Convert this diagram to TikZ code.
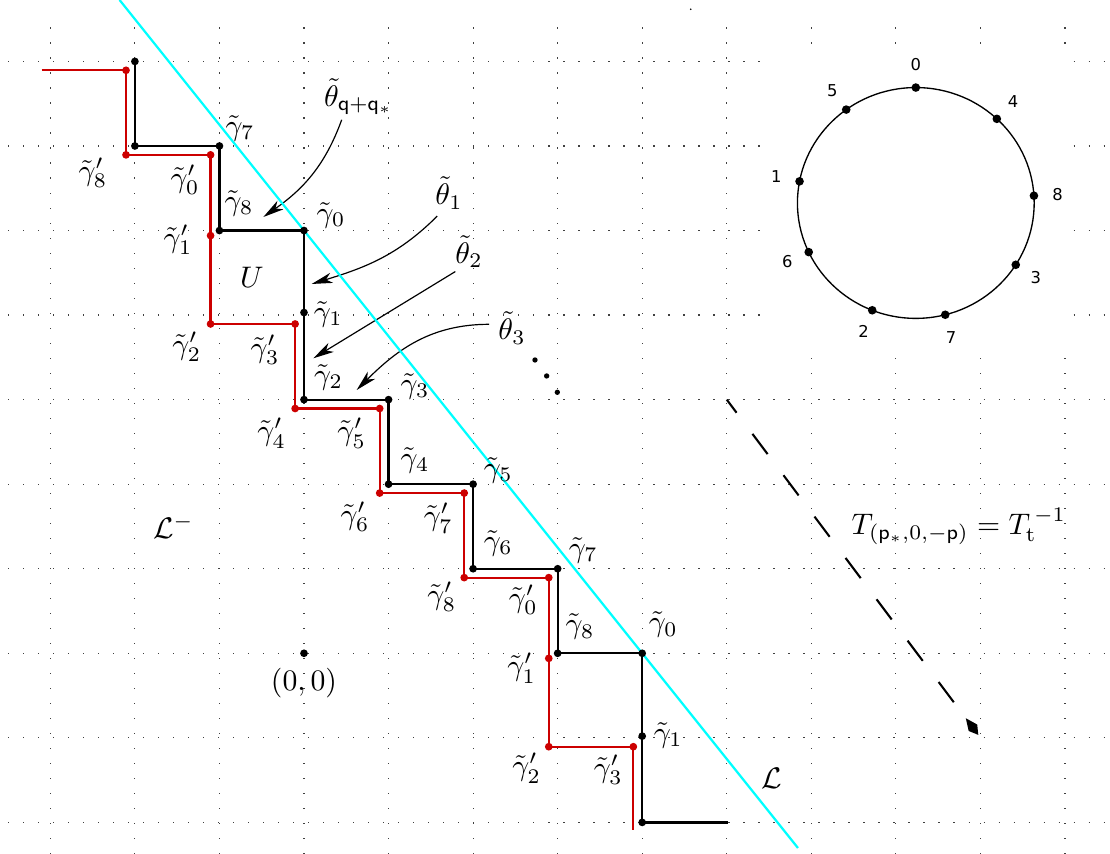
\documentclass[tikz,border=0pt]{standalone}
\usepackage{fontspec}
\newfontfamily\circfont{DejaVu Sans}
\usetikzlibrary{arrows.meta,calc}
\definecolor{pathred}{RGB}{204,0,0}
\definecolor{lcyan}{RGB}{0,255,255}
\begin{document}
\begin{tikzpicture}[
  gridline/.style={line width=0.4pt, dash pattern=on 0.4pt off 4.65pt, black!75},
  bpath/.style={line width=0.75pt, black},
  rpath/.style={line width=0.75pt, pathred},
  bdot/.style={circle, fill=black, inner sep=0pt, minimum size=2.6pt},
  rdot/.style={circle, fill=pathred, inner sep=0pt, minimum size=2.6pt},
  cdot/.style={circle, fill=black, inner sep=0pt, minimum size=2.9pt},
  edot/.style={circle, fill=black, inner sep=0pt, minimum size=1.8pt},
  glab/.style={inner sep=0pt, font=\fontsize{10}{12}\selectfont},
  tlab/.style={inner sep=0pt, font=\fontsize{10}{12}\selectfont},
  blab/.style={inner sep=0pt, font=\fontsize{10}{12}\selectfont},
  clab/.style={inner sep=0pt, font=\circfont\fontsize{5.5}{6.5}\selectfont},
  thinarrow/.style={line width=0.4pt, -{Stealth[length=7pt,width=3.5pt,inset=2pt]}},
  dasharrow/.style={line width=0.7pt, dash pattern=on 8.5pt off 8.9pt, dash phase=3pt, -{Kite[length=7pt,width=3.6pt,inset=4pt]}},
]
\useasboundingbox (-3.5955,-2.3737) rectangle (9.5328,7.7268);
\clip (-3.5955,-2.3737) rectangle (9.5328,7.7268);

% grid
\foreach \x in {-3,...,9} \draw[gridline] (\x,-2.3737) -- (\x,7.55);
\foreach \y in {-2,...,7} \draw[gridline] (-3.5,\y) -- (9.5328,\y);
\fill[white] (5.48,3.49) rectangle (9.09,7.13);

% stray dot at top
\node[circle, fill=black, inner sep=0pt, minimum size=0.6pt] (stray) at (4.574,7.617) {};

% theta labels and arrows
\node[tlab] (lthq) at (0.645,6.58) {$\tilde\theta_{\mathsf{q}+\mathsf{q}_*}$};
\node[tlab] (lth1) at (1.715,5.444) {$\tilde\theta_1$};
\node[tlab] (lth2) at (1.951,4.747) {$\tilde\theta_2$};
\node[tlab] (lth3) at (2.460,3.848) {$\tilde\theta_3$};
\coordinate (aq1) at (0.446,6.31);
\coordinate (aq2) at (-0.481,5.160);
\coordinate (a11) at (1.575,5.17);
\coordinate (a12) at (0.091,4.368);
\coordinate (a21) at (1.790,4.515);
\coordinate (a22) at (0.110,3.489);
\coordinate (a31) at (2.190,3.891);
\coordinate (a32) at (0.623,3.114);
\draw[thinarrow] (aq1) to[out=250,in=35] (aq2);
\draw[thinarrow] (a11) to[out=225,in=17] (a12);
\draw[thinarrow] (a21) -- (a22);
\draw[thinarrow] (a31) to[out=180,in=45] (a32);

% cyan line L
\coordinate (Ltop) at (-2.1814,7.7268);
\coordinate (Lbot) at (5.842,-2.3025);
\draw[lcyan, line width=0.75pt] (Ltop) -- (Lbot);

% black staircase
\coordinate (b1) at (-2,7);
\coordinate (b2) at (-2,6);
\coordinate (b3) at (-1,6);
\coordinate (b4) at (-1,5);
\coordinate (b5) at (0,5);
\coordinate (b6) at (0,4.03);
\coordinate (b7) at (0,3);
\coordinate (b8) at (1,3);
\coordinate (b9) at (1,2);
\coordinate (b10) at (2,2);
\coordinate (b11) at (2,1);
\coordinate (b12) at (3,1);
\coordinate (b13) at (3,0);
\coordinate (b14) at (4,0);
\coordinate (b15) at (4,-0.98);
\coordinate (b16) at (4,-2);
\coordinate (b17) at (5.01,-2);
\draw[bpath] (b1) -- (b2) -- (b3) -- (b4) -- (b5) -- (b6) -- (b7) -- (b8) -- (b9) -- (b10) -- (b11) -- (b12) -- (b13) -- (b14) -- (b15) -- (b16) -- (b17);

% red staircase
\coordinate (r0) at (-3.102,6.895);
\coordinate (r1) at (-2.105,6.895);
\coordinate (r2) at (-2.105,5.895);
\coordinate (r3) at (-1.105,5.895);
\coordinate (r4) at (-1.105,4.94);
\coordinate (r5) at (-1.105,3.895);
\coordinate (r6) at (-0.105,3.895);
\coordinate (r7) at (-0.105,2.895);
\coordinate (r8) at (0.895,2.895);
\coordinate (r9) at (0.895,1.895);
\coordinate (r10) at (1.895,1.895);
\coordinate (r11) at (1.895,0.895);
\coordinate (r12) at (2.895,0.895);
\coordinate (r13) at (2.895,-0.06);
\coordinate (r14) at (2.895,-1.105);
\coordinate (r15) at (3.895,-1.105);
\coordinate (r16) at (3.895,-2.095);
\draw[rpath] (r0) -- (r1) -- (r2) -- (r3) -- (r4) -- (r5) -- (r6) -- (r7) -- (r8) -- (r9) -- (r10) -- (r11) -- (r12) -- (r13) -- (r14) -- (r15) -- (r16);

\foreach \i in {1,...,16} \node[bdot] (db\i) at (b\i) {};
\foreach \i in {1,...,15} \node[rdot] (dr\i) at (r\i) {};

% origin
\node[bdot] (o) at (0,0) {};
\node[blab] (lorig) at (0,-0.351) {$(0,0)$};

% ellipsis dots
\node[edot] (e1) at (2.732,3.469) {};
\node[edot] (e2) at (2.870,3.280) {};
\node[edot] (e3) at (2.996,3.087) {};

% gamma labels
\node[glab] (lg7a) at (-0.757,6.213) {$\tilde\gamma_7$};
\node[glab] (lgp8a) at (-2.496,5.681) {$\tilde\gamma'_8$};
\node[glab] (lgp0a) at (-1.407,5.598) {$\tilde\gamma'_0$};
\node[glab] (lg8a) at (-0.769,5.326) {$\tilde\gamma_8$};
\node[glab] (lg0a) at (0.319,5.184) {$\tilde\gamma_0$};
\node[glab] (lgp1a) at (-1.490,4.889) {$\tilde\gamma'_1$};
\node[glab] (lg1a) at (0.287,4.013) {$\tilde\gamma_1$};
\node[glab] (lgp2a) at (-1.387,3.626) {$\tilde\gamma'_2$};
\node[glab] (lgp3a) at (-0.461,3.587) {$\tilde\gamma'_3$};
\node[glab] (lg2) at (0.290,3.268) {$\tilde\gamma_2$};
\node[glab] (lg3) at (1.313,3.161) {$\tilde\gamma_3$};
\node[glab] (lgp4) at (-0.382,2.602) {$\tilde\gamma'_4$};
\node[glab] (lgp5) at (0.564,2.602) {$\tilde\gamma'_5$};
\node[glab] (lg4) at (1.313,2.286) {$\tilde\gamma_4$};
\node[glab] (lg5) at (2.298,2.168) {$\tilde\gamma_5$};
\node[glab] (lgp6) at (0.603,1.616) {$\tilde\gamma'_6$};
\node[glab] (lgp7) at (1.588,1.597) {$\tilde\gamma'_7$};
\node[glab] (lg6) at (2.298,1.301) {$\tilde\gamma_6$};
\node[glab] (lg7b) at (3.303,1.222) {$\tilde\gamma_7$};
\node[glab] (lgp8b) at (1.629,0.669) {$\tilde\gamma'_8$};
\node[glab] (lgp0b) at (2.594,0.630) {$\tilde\gamma'_0$};
\node[glab] (lg8b) at (3.264,0.315) {$\tilde\gamma_8$};
\node[glab] (lg0b) at (4.250,0.335) {$\tilde\gamma_0$};
\node[glab] (lgp1b) at (2.575,-0.177) {$\tilde\gamma'_1$};
\node[glab] (lg1b) at (4.309,-0.966) {$\tilde\gamma_1$};
\node[glab] (lgp2b) at (2.634,-1.360) {$\tilde\gamma'_2$};
\node[glab] (lgp3b) at (3.599,-1.380) {$\tilde\gamma'_3$};

% other labels
\node[blab] (lU) at (-0.615,4.451) {$U$};
\node[blab] (lLm) at (-1.546,1.497) {$\mathcal{L}^-$};
\node[blab] (lL) at (5.532,-1.478) {$\mathcal{L}$};
\node[blab] (lT) at (7.745,1.497) {$T_{(\mathsf{p}_*,0,-\mathsf{p})}=T_{\mathrm{t}}^{\,-1}$};

% dashed arrow
\coordinate (d1) at (5,3);
\coordinate (d2) at (7.975,-0.965);
\draw[dasharrow] (d1) -- (d2);

% circle
\coordinate (cc) at (7.236,5.326);
\draw[line width=0.45pt] (cc) ellipse [x radius=1.40, y radius=1.365];
\foreach \k in {0,...,8} {
  \pgfmathsetmacro{\ang}{90+79.2*\k}
  \path (cc) ++(\ang:1.40 and 1.365) node[cdot] (cd\k) {};
  \path (cc) ++(\ang:1.68 and 1.64) node[clab] (cl\k) {\k};
}
\end{tikzpicture}
\end{document}
